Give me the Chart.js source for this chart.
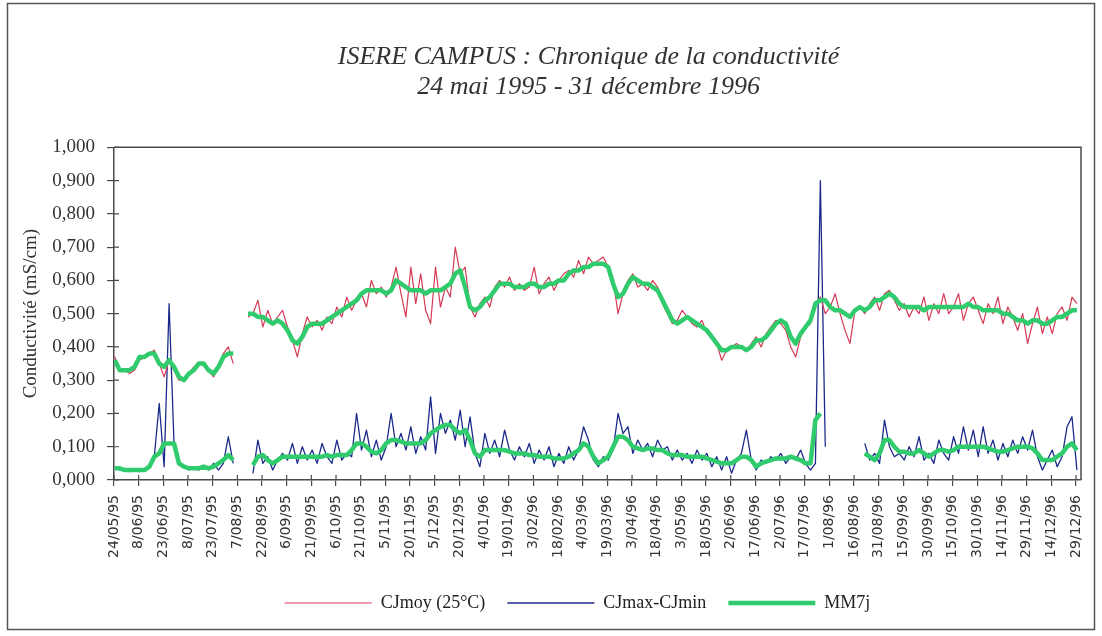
<!DOCTYPE html>
<html>
<head>
<meta charset="utf-8">
<script src="https://cdn.jsdelivr.net/npm/chart.js@4.4.1/dist/chart.umd.min.js"></script>
<style>
  html, body { margin: 0; padding: 0; background: #fff; }
  #wrap { width: 1102px; height: 636px; }
  canvas { display: block; }
</style>
</head>
<body>
<div id="wrap"><canvas id="c" width="1102" height="636"></canvas></div>
<script>
// One reading every 3 days; day 0 = 24/05/95, last day = 31/12/96 (day 587)
const STEP = 3;
const LAST_DAY = 587;

// Date labels of the time axis, one every 15 days
const tickLabels = [
  "24/05/95","8/06/95","23/06/95","8/07/95","23/07/95","7/08/95","22/08/95","6/09/95",
  "21/09/95","6/10/95","21/10/95","5/11/95","20/11/95","5/12/95","20/12/95","4/01/96",
  "19/01/96","3/02/96","18/02/96","4/03/96","19/03/96","3/04/96","18/04/96","3/05/96",
  "18/05/96","2/06/96","17/06/96","2/07/96","17/07/96","1/08/96","16/08/96","31/08/96",
  "15/09/96","30/09/96","15/10/96","30/10/96","14/11/96","29/11/96","14/12/96","29/12/96"
];
const TICK_EVERY = 15;

// CJmoy (25°C), mS/cm
const cjmoy = [
  0.37,0.33,0.33,0.32,0.33,0.36,0.37,0.38,0.39,0.35,0.31,0.36,0.33,0.30,0.30,0.32,
  0.34,0.35,0.35,0.33,0.31,0.34,0.38,0.40,0.35,null,null,0.49,0.50,0.54,0.46,0.51,
  0.47,0.49,0.51,0.46,0.42,0.37,0.44,0.49,0.46,0.48,0.45,0.49,0.47,0.52,0.49,0.55,
  0.51,0.54,0.56,0.52,0.60,0.56,0.58,0.55,0.58,0.64,0.56,0.49,0.64,0.53,0.62,0.51,
  0.47,0.64,0.52,0.58,0.55,0.70,0.62,0.64,0.52,0.49,0.53,0.55,0.52,0.58,0.60,0.58,
  0.61,0.57,0.59,0.57,0.58,0.64,0.56,0.59,0.61,0.57,0.60,0.62,0.63,0.61,0.66,0.62,
  0.67,0.65,0.66,0.67,0.64,0.60,0.50,0.56,0.60,0.62,0.58,0.59,0.57,0.60,0.58,0.53,
  0.50,0.47,0.48,0.51,0.49,0.47,0.46,0.48,0.44,0.43,0.41,0.36,0.39,0.40,0.41,0.40,
  0.39,0.41,0.43,0.40,0.44,0.46,0.48,0.47,0.45,0.40,0.37,0.43,0.46,0.47,0.53,0.55,
  0.50,0.52,0.56,0.50,0.45,0.41,0.51,0.52,0.50,0.53,0.55,0.51,0.56,0.57,0.54,0.51,
  0.53,0.49,0.52,0.50,0.55,0.48,0.53,0.50,0.56,0.50,0.52,0.56,0.48,0.53,0.55,0.51,
  0.47,0.53,0.50,0.55,0.47,0.52,0.49,0.45,0.50,0.41,0.47,0.52,0.44,0.49,0.44,0.50,
  0.52,0.48,0.55,0.53
];

// 7-day moving mean of CJmoy
const cjmoyMM7 = [
  0.36,0.33,0.33,0.33,0.34,0.37,0.37,0.38,0.38,0.35,0.34,0.36,0.34,0.31,0.30,0.32,
  0.33,0.35,0.35,0.33,0.32,0.34,0.37,0.38,0.38,null,null,0.50,0.50,0.49,0.49,0.48,
  0.47,0.48,0.47,0.45,0.42,0.41,0.43,0.46,0.47,0.47,0.47,0.48,0.49,0.50,0.51,0.52,
  0.53,0.54,0.56,0.57,0.57,0.57,0.57,0.56,0.57,0.60,0.59,0.58,0.57,0.57,0.57,0.56,
  0.57,0.57,0.57,0.58,0.59,0.62,0.63,0.58,0.52,0.51,0.52,0.54,0.55,0.57,0.59,0.59,
  0.59,0.58,0.58,0.58,0.59,0.59,0.58,0.58,0.59,0.59,0.60,0.60,0.62,0.63,0.63,0.64,
  0.64,0.65,0.65,0.65,0.64,0.59,0.55,0.56,0.59,0.61,0.60,0.59,0.59,0.58,0.57,0.54,
  0.51,0.48,0.47,0.48,0.49,0.48,0.47,0.46,0.45,0.43,0.41,0.39,0.39,0.40,0.40,0.40,
  0.39,0.40,0.42,0.42,0.43,0.45,0.47,0.48,0.47,0.43,0.41,0.44,0.46,0.48,0.53,0.54,
  0.54,0.52,0.51,0.51,0.50,0.49,0.51,0.52,0.51,0.52,0.54,0.54,0.55,0.56,0.55,0.53,
  0.52,0.52,0.52,0.52,0.51,0.52,0.52,0.52,0.52,0.52,0.52,0.52,0.52,0.53,0.52,0.52,
  0.51,0.51,0.51,0.51,0.50,0.50,0.49,0.48,0.48,0.47,0.48,0.48,0.47,0.47,0.48,0.49,
  0.49,0.50,0.51,0.51
];

// CJmax-CJmin, mS/cm
const ecart = [
  0.04,0.03,0.03,0.025,0.03,0.025,0.03,0.04,0.07,0.23,0.04,0.53,0.11,0.05,0.04,0.03,
  0.04,0.03,0.04,0.03,0.05,0.03,0.05,0.13,0.05,null,null,null,0.02,0.12,0.05,0.07,
  0.03,0.06,0.08,0.06,0.11,0.05,0.10,0.06,0.09,0.05,0.11,0.07,0.05,0.12,0.06,0.08,
  0.07,0.20,0.09,0.15,0.07,0.12,0.06,0.10,0.20,0.10,0.14,0.09,0.16,0.08,0.13,0.09,
  0.25,0.08,0.20,0.14,0.18,0.12,0.21,0.10,0.19,0.08,0.04,0.14,0.08,0.12,0.07,0.15,
  0.09,0.06,0.10,0.07,0.11,0.05,0.09,0.06,0.10,0.04,0.08,0.05,0.10,0.06,0.09,0.16,
  0.12,0.06,0.04,0.07,0.06,0.09,0.20,0.14,0.16,0.08,0.12,0.09,0.11,0.07,0.12,0.09,
  0.10,0.06,0.09,0.06,0.08,0.05,0.09,0.06,0.08,0.04,0.07,0.03,0.07,0.02,0.06,0.08,
  0.15,0.06,0.03,0.06,0.05,0.07,0.06,0.08,0.05,0.07,0.06,0.09,0.05,0.03,0.05,0.90,
  0.10,null,null,null,null,null,null,null,0.11,0.06,0.08,0.05,0.18,0.10,0.07,0.08,
  0.06,0.10,0.07,0.13,0.06,0.08,0.05,0.12,0.08,0.06,0.13,0.08,0.16,0.09,0.15,0.07,
  0.16,0.08,0.12,0.06,0.11,0.07,0.12,0.08,0.13,0.09,0.15,0.07,0.03,0.06,0.09,0.04,
  0.07,0.16,0.19,0.03
];

// 7-day moving mean of CJmax-CJmin
const ecartMM7 = [
  0.035,0.035,0.03,0.03,0.03,0.03,0.03,0.04,0.07,0.08,0.11,0.11,0.11,0.05,0.04,0.035,
  0.035,0.035,0.04,0.035,0.04,0.05,0.06,0.075,0.06,null,null,null,0.045,0.07,0.075,0.06,
  0.05,0.06,0.07,0.07,0.07,0.07,0.07,0.07,0.07,0.07,0.07,0.075,0.07,0.075,0.075,0.075,
  0.09,0.11,0.11,0.10,0.085,0.08,0.09,0.11,0.12,0.12,0.115,0.11,0.11,0.11,0.11,0.12,
  0.14,0.15,0.16,0.165,0.165,0.15,0.14,0.15,0.12,0.08,0.07,0.09,0.09,0.09,0.09,0.09,
  0.085,0.08,0.08,0.08,0.075,0.075,0.07,0.07,0.07,0.065,0.065,0.065,0.07,0.08,0.09,0.11,
  0.10,0.07,0.05,0.06,0.07,0.10,0.13,0.13,0.12,0.10,0.095,0.09,0.095,0.095,0.09,0.09,
  0.08,0.075,0.075,0.075,0.07,0.07,0.07,0.07,0.065,0.06,0.055,0.05,0.05,0.05,0.06,0.07,
  0.07,0.06,0.04,0.05,0.055,0.06,0.065,0.065,0.065,0.07,0.065,0.06,0.05,0.05,0.18,0.20,
  null,null,null,null,null,null,null,null,0.08,0.07,0.06,0.08,0.12,0.12,0.10,0.085,
  0.085,0.08,0.08,0.09,0.08,0.07,0.08,0.09,0.09,0.085,0.09,0.10,0.10,0.10,0.10,0.10,
  0.10,0.095,0.09,0.085,0.085,0.09,0.095,0.10,0.10,0.10,0.095,0.08,0.06,0.06,0.06,0.07,
  0.08,0.10,0.11,0.09
];

const RED = '#d43a55';
const BLUE = '#1b2a8a';
const GREEN = '#2fcb6c';
const AXIS = '#4a4a4a';

const toPoints = vals => vals.map((v, i) => ({ x: i * STEP, y: v }));

// Plot frame, inner halves of the tick marks and outer chart border
const framePlugin = {
  id: 'frame',
  afterLayout(chart) {
    // title and legend sit a little left of the plot centre
    const lg = chart.legend;
    if (lg) { lg.left -= 20; lg.right -= 20; }
    const tb = chart.titleBlock;
    if (tb) { tb.left -= 9; tb.right -= 9; }
  },
  afterDatasetsDraw(chart) {
    const { ctx, chartArea: a, scales: { x, y } } = chart;
    ctx.save();
    ctx.strokeStyle = AXIS;
    ctx.lineWidth = 1.5;
    ctx.beginPath();
    ctx.moveTo(a.left, a.top); ctx.lineTo(a.right, a.top); ctx.lineTo(a.right, a.bottom);
    ctx.stroke();
    ctx.lineWidth = 1.2;
    ctx.beginPath();
    x.ticks.forEach(t => {
      const px = x.getPixelForValue(t.value);
      ctx.moveTo(px, a.bottom); ctx.lineTo(px, a.bottom - 5);
    });
    y.ticks.forEach(t => {
      const py = y.getPixelForValue(t.value);
      ctx.moveTo(a.left, py); ctx.lineTo(a.left + 5, py);
    });
    ctx.stroke();
    ctx.restore();
  },
  afterDraw(chart) {
    const { ctx } = chart;
    ctx.save();
    ctx.strokeStyle = '#555';
    ctx.lineWidth = 1.5;
    ctx.strokeRect(7.5, 3.5, 1087, 626);
    ctx.restore();
  }
};

new Chart(document.getElementById('c'), {
  type: 'line',
  data: {
    datasets: [
      { label: 'CJmoy (25°C)', data: toPoints(cjmoy), borderColor: RED, backgroundColor: RED,
        borderWidth: 1.2, order: 2 },
      { label: 'CJmax-CJmin', data: toPoints(ecart), borderColor: BLUE, backgroundColor: BLUE,
        borderWidth: 1.3, order: 2 },
      { label: 'MM7j', data: toPoints(cjmoyMM7), borderColor: GREEN, backgroundColor: GREEN,
        borderWidth: 4.5, order: 1 },
      { label: 'MM7j ', data: toPoints(ecartMM7), borderColor: GREEN, backgroundColor: GREEN,
        borderWidth: 4.5, order: 1 }
    ]
  },
  options: {
    responsive: false,
    animation: false,
    devicePixelRatio: 1,
    spanGaps: false,
    elements: { point: { radius: 0, hoverRadius: 0 }, line: { tension: 0, borderJoinStyle: 'round' } },
    layout: { padding: { left: 10, right: 20, top: 10, bottom: 14 } },
    scales: {
      x: {
        type: 'linear',
        min: -0.5,
        max: LAST_DAY + 0.5,
        afterBuildTicks: s => { s.ticks = tickLabels.map((_, i) => ({ value: i * TICK_EVERY - 0.5 })); },
        afterFit: s => { s.height = 92; },
        grid: { drawOnChartArea: false, tickLength: 6, color: AXIS, lineWidth: 1.2 },
        border: { display: true, color: AXIS, width: 1.5 },
        ticks: {
          autoSkip: false, maxRotation: 90, minRotation: 90, padding: 9,
          color: '#333', font: { family: 'DejaVu Sans', size: 14 },
          callback: (v, i) => tickLabels[i]
        }
      },
      y: {
        min: 0, max: 1,
        afterFit: s => { s.width = 104; },
        grid: { drawOnChartArea: false, tickLength: 7, color: AXIS, lineWidth: 1.2 },
        border: { display: true, color: AXIS, width: 1.5 },
        ticks: {
          stepSize: 0.1, padding: 12, color: '#333',
          font: { family: 'Liberation Serif', size: 19 },
          callback: v => v.toFixed(3).replace('.', ',')
        },
        title: {
          display: true, text: 'Conductivité (mS/cm)', color: '#333',
          font: { family: 'Liberation Serif', size: 19 }, padding: { top: 10, bottom: 0 }
        }
      }
    },
    plugins: {
      tooltip: { enabled: false },
      title: {
        display: true, fullSize: false,
        text: ['ISERE CAMPUS : Chronique de la conductivité', '24 mai 1995 - 31 décembre 1996'],
        color: '#333',
        font: { family: 'Liberation Serif', size: 26, style: 'italic', weight: 'normal', lineHeight: 1.16 },
        padding: { top: 32, bottom: 45 }
      },
      legend: {
        position: 'bottom', fullSize: false,
        labels: {
          sort: (a, b) => a.datasetIndex - b.datasetIndex,
          filter: item => item.datasetIndex !== 3,
          usePointStyle: true, pointStyle: 'line', pointStyleWidth: 87,
          padding: 22, color: '#222',
          font: { family: 'Liberation Serif', size: 18 }
        }
      }
    }
  },
  plugins: [framePlugin]
});
</script>
</body>
</html>
